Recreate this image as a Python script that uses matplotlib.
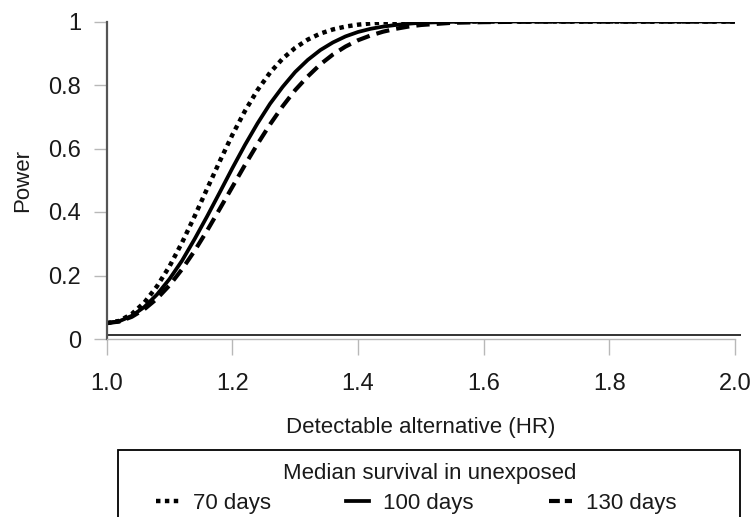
import matplotlib
matplotlib.use("Agg")
import matplotlib.pyplot as plt
from matplotlib.patches import Rectangle
from matplotlib.lines import Line2D

plt.rcParams['font.family'] = ['Liberation Sans', 'DejaVu Sans']

# ---- data ----
hr = [1.00, 1.02, 1.04, 1.06, 1.08, 1.10, 1.12, 1.14, 1.16, 1.18, 1.20,
      1.22, 1.24, 1.26, 1.28, 1.30, 1.32, 1.34, 1.36, 1.38, 1.40,
      1.42, 1.44, 1.46, 1.48, 1.50, 1.55, 1.60, 1.70, 1.80, 1.90, 2.00]

power_70 = [0.050, 0.057, 0.079, 0.115, 0.166, 0.229, 0.304, 0.387, 0.474, 0.560, 0.643,
            0.718, 0.784, 0.839, 0.883, 0.917, 0.943, 0.962, 0.975, 0.984, 0.990,
            0.994, 0.997, 0.998, 0.999, 0.999, 1.000, 1.000, 1.000, 1.000, 1.000, 1.000]

power_100 = [0.050, 0.056, 0.073, 0.101, 0.140, 0.189, 0.247, 0.315, 0.387, 0.462, 0.538,
             0.611, 0.679, 0.741, 0.794, 0.841, 0.879, 0.910, 0.934, 0.953, 0.967,
             0.977, 0.984, 0.989, 0.993, 0.996, 0.999, 1.000, 1.000, 1.000, 1.000, 1.000]

power_130 = [0.050, 0.055, 0.070, 0.094, 0.127, 0.169, 0.220, 0.278, 0.342, 0.410, 0.479,
             0.548, 0.614, 0.676, 0.733, 0.784, 0.827, 0.865, 0.896, 0.921, 0.941,
             0.956, 0.968, 0.977, 0.984, 0.989, 0.996, 0.998, 1.000, 1.000, 1.000, 1.000]

series_labels = ["70 days", "100 days", "130 days"]
legend_title = "Median survival in unexposed"
x_ticks = [1.0, 1.2, 1.4, 1.6, 1.8, 2.0]
x_ticklabels = ["1.0", "1.2", "1.4", "1.6", "1.8", "2.0"]
y_ticks = [0, 0.2, 0.4, 0.6, 0.8, 1]
y_ticklabels = ["0", "0.2", "0.4", "0.6", "0.8", "1"]

# ---- figure ----
W, H = 756, 517
fig = plt.figure(figsize=(W / 100, H / 100), dpi=100)
x0, x1 = 106.7, 735.0
y0, y1 = 339.0, 21.5
ax = fig.add_axes([x0 / W, 1 - y0 / H, (x1 - x0) / W, (y0 - y1) / H])
ax.set_xlim(1.0, 2.0)
ax.set_ylim(0, 1)

txt = '#1a1a1a'
dot_style = (0, (1.0, 1.0))
dash_style = (0, (3.2, 1.7))
lw_dot = 3.2
lw_solid = 2.7
lw_dash = 3.0
ax.plot(hr, power_70, color='black', lw=lw_dot, linestyle=dot_style,
        dash_capstyle='butt', label=series_labels[0])
ax.plot(hr, power_100, color='black', lw=lw_solid, linestyle='-',
        label=series_labels[1])
ax.plot(hr, power_130, color='black', lw=lw_dash, linestyle=dash_style,
        dash_capstyle='butt', label=series_labels[2])

# spines
for s in ['top', 'right']:
    ax.spines[s].set_visible(False)
ax.spines['left'].set_color('#555555')
ax.spines['left'].set_linewidth(1.6)
ax.spines['bottom'].set_color('#b8b8b8')
ax.spines['bottom'].set_linewidth(1.0)
# dark plot-area baseline just above the gray axis
ax.plot([0, 1.01], [0.0126, 0.0126], transform=ax.transAxes, color='#222222',
        lw=1.3, clip_on=False, solid_capstyle='butt')

ax.set_xticks(x_ticks)
ax.set_xticklabels(x_ticklabels)
ax.set_yticks(y_ticks)
ax.set_yticklabels(y_ticklabels)
ax.tick_params(axis='x', direction='out', length=11.5, width=1.0, color='#b8b8b8',
               pad=13, labelsize=17, labelcolor=txt)
ax.tick_params(axis='y', direction='out', length=9.5, width=1.0, color='#b8b8b8',
               pad=9, labelsize=17, labelcolor=txt)

ax.set_xlabel("Detectable alternative (HR)", fontsize=16, color=txt, labelpad=16)
ax.set_ylabel("Power", fontsize=16, color=txt, labelpad=11)

# ---- legend ----
h70 = Line2D([], [], color='black', lw=lw_dot, linestyle=dot_style, dash_capstyle='butt')
h100 = Line2D([], [], color='black', lw=lw_solid, linestyle='-')
h130 = Line2D([], [], color='black', lw=lw_dash, linestyle=(0, (2.6, 1.2)),
              dash_capstyle='butt')
leg = fig.legend([h70, h100, h130], series_labels, loc='center',
                 bbox_to_anchor=(416 / W, 1 - 503 / H), ncol=3, frameon=False,
                 fontsize=16, handlelength=1.05, handletextpad=0.6,
                 columnspacing=3.4, borderpad=0.0)
for t in leg.get_texts():
    t.set_color(txt)
fig.text(430 / W, 1 - 474 / H, legend_title, fontsize=16, color=txt,
         ha='center', va='center')

fig.add_artist(Rectangle((118 / W, -0.05), (740 - 118) / W, 0.05 + (1 - 450 / H),
                         transform=fig.transFigure, fill=False, ec='black', lw=1.3))

fig.savefig("out.png", dpi=100)
